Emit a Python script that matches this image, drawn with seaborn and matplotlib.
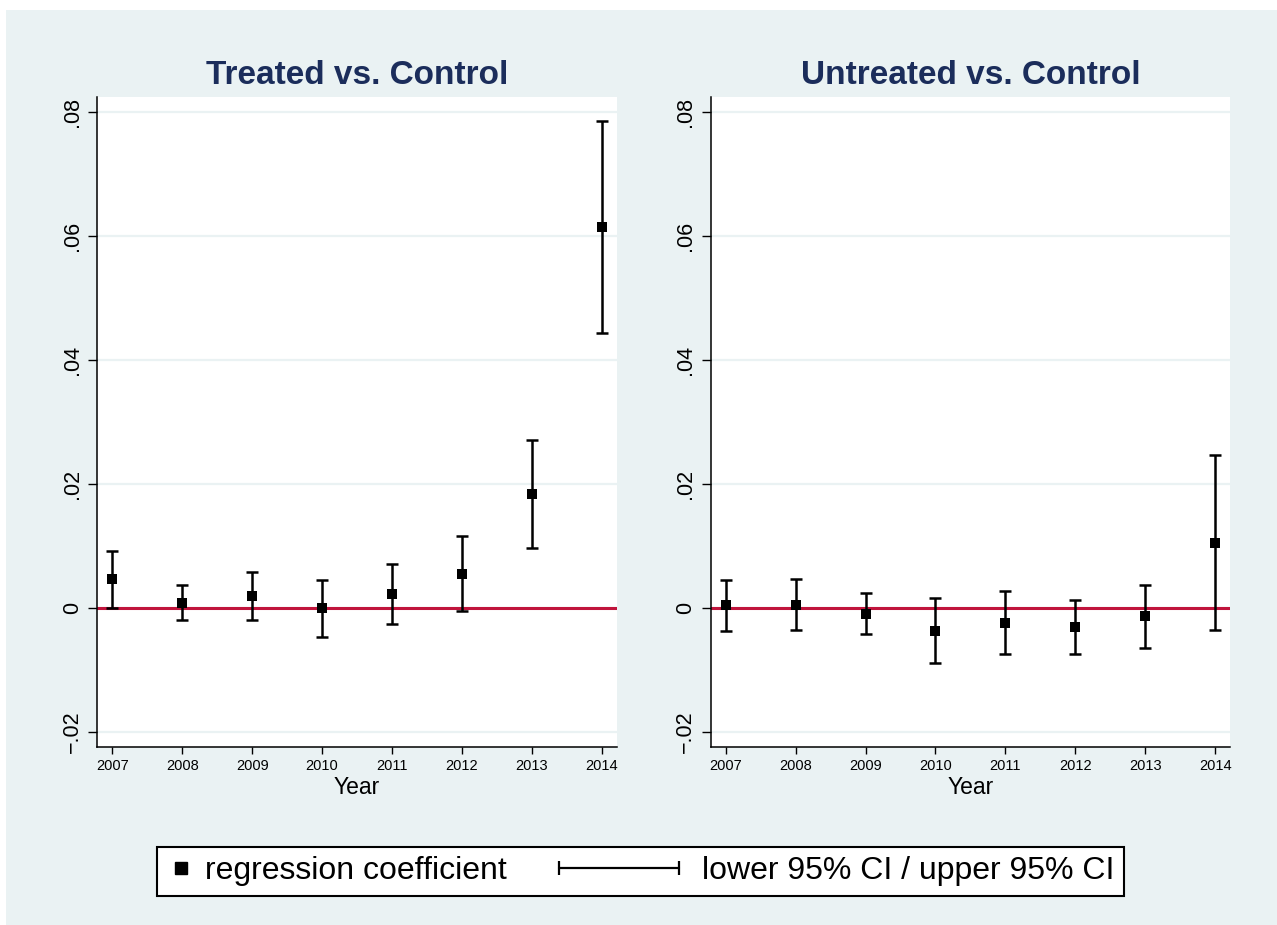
import numpy as np
import pandas as pd
import matplotlib
matplotlib.use('Agg')
import matplotlib.pyplot as plt
import seaborn as sns
from matplotlib.lines import Line2D
from matplotlib.legend_handler import HandlerBase, HandlerLine2D
from matplotlib.patches import Rectangle

# Data
years = [2007, 2008, 2009, 2010, 2011, 2012, 2013, 2014]

treated_coef = [0.0046, 0.0008, 0.0019, -0.0001, 0.0022, 0.0055, 0.0183, 0.0615]
treated_lo = [0.0000, -0.0020, -0.0020, -0.0047, -0.0027, -0.0006, 0.0097, 0.0443]
treated_hi = [0.0092, 0.0037, 0.0058, 0.0045, 0.0071, 0.0115, 0.0271, 0.0786]

untreated_coef = [0.0004, 0.0005, -0.0010, -0.0038, -0.0024, -0.0031, -0.0014, 0.0105]
untreated_lo = [-0.0037, -0.0036, -0.0043, -0.0090, -0.0075, -0.0075, -0.0065, -0.0036]
untreated_hi = [0.0044, 0.0046, 0.0024, 0.0015, 0.0027, 0.0012, 0.0036, 0.0246]

panel_titles = ['Treated vs. Control', 'Untreated vs. Control']
ytick_values = [-0.02, 0.0, 0.02, 0.04, 0.06, 0.08]
ytick_labels = ['\u2212.02', '0', '.02', '.04', '.06', '.08']
legend_labels = ['regression coefficient', 'lower 95% CI / upper 95% CI']

BG = '#EAF2F3'
TITLE_COLOR = '#1b2d5b'
RED = '#C0143C'

sns.set_theme(style='white')
plt.rcParams['font.family'] = ['Liberation Sans', 'DejaVu Sans']
plt.rcParams['text.color'] = 'black'
plt.rcParams['axes.labelcolor'] = 'black'
plt.rcParams['xtick.color'] = 'black'
plt.rcParams['ytick.color'] = 'black'

W, H = 1277, 925
fig = plt.figure(figsize=(W / 100, H / 100), dpi=100)
fig.patch.set_facecolor('white')
fig.add_artist(Rectangle((6 / W, 0), 1 - 6 / W, 1 - 10 / H, transform=fig.transFigure,
                         facecolor=BG, edgecolor='none', zorder=-10))


def make_panel(left_px, coef, lo, hi, title):
    ax = fig.add_axes([left_px / W, (H - 746.7) / H, 519.4 / W, 650 / H])
    df = pd.DataFrame({'Year': years, 'coef': coef, 'lo': lo, 'hi': hi})
    ax.set_facecolor('white')
    ax.axhline(0, color=RED, lw=2.2, zorder=2)
    ax.errorbar(df['Year'], df['coef'],
                yerr=[df['coef'] - df['lo'], df['hi'] - df['coef']],
                fmt='none', ecolor='black', elinewidth=1.8, capsize=4.5, capthick=1.8, zorder=3)
    sns.scatterplot(data=df, x='Year', y='coef', marker='s', s=56, color='black',
                    edgecolor='black', linewidth=0, ax=ax, legend=False, zorder=4)
    ax.set_xlim(2006.785, 2014.215)
    ax.set_ylim(-0.02245, 0.0825)
    ax.set_xticks(years)
    ax.set_xticklabels([str(y) for y in years], fontsize=10.5)
    ax.set_yticks(ytick_values)
    ax.set_yticklabels(ytick_labels, fontsize=15.5, rotation=90, va='center')
    ax.yaxis.grid(True, color=BG, lw=1.6, zorder=0)
    ax.xaxis.grid(False)
    ax.set_axisbelow(True)
    ax.tick_params(axis='y', length=6.5, width=1, color='black', pad=4, left=True)
    ax.tick_params(axis='x', length=5, width=1, color='black', pad=3.5, bottom=True)
    for side in ['top', 'right']:
        ax.spines[side].set_visible(False)
    for side in ['left', 'bottom']:
        ax.spines[side].set_color('black')
        ax.spines[side].set_linewidth(1.1)
    ax.set_xlabel('Year', fontsize=16.5, labelpad=2.5)
    ax.set_ylabel('')
    ax.set_title(title, fontsize=24, fontweight='bold', color=TITLE_COLOR, pad=9)
    return ax


make_panel(97.3, treated_coef, treated_lo, treated_hi, panel_titles[0])
make_panel(710.7, untreated_coef, untreated_lo, untreated_hi, panel_titles[1])


class CIHandler(HandlerBase):
    def create_artists(self, legend, orig_handle, xdescent, ydescent, width, height, fontsize, trans):
        y = height / 2 - ydescent
        x1 = 0.55 * width - xdescent
        x0 = x1 - 3.75 * fontsize
        line = Line2D([x0, x1], [y, y], color='black', lw=1.6, marker='|',
                      markersize=10, markeredgewidth=1.6, transform=trans)
        return [line]


h_coef = Line2D([], [], marker='s', color='black', linestyle='none', markersize=8.5)
h_ci = Line2D([], [], color='black', lw=1.6)

leg = fig.legend([h_coef, h_ci], legend_labels, loc='center',
                 bbox_to_anchor=(640.5 / W, 1 - 871.5 / H), ncol=2, fontsize=23,
                 handlelength=0.9, handletextpad=0.3, columnspacing=4.9,
                 borderpad=0.3, frameon=True, fancybox=False,
                 handler_map={h_coef: HandlerLine2D(numpoints=1), h_ci: CIHandler()})
frame = leg.get_frame()
frame.set_edgecolor('black')
frame.set_linewidth(1.5)
frame.set_facecolor('white')
frame.set_alpha(1)

fig.savefig('out.png', dpi=100, facecolor=fig.get_facecolor())
